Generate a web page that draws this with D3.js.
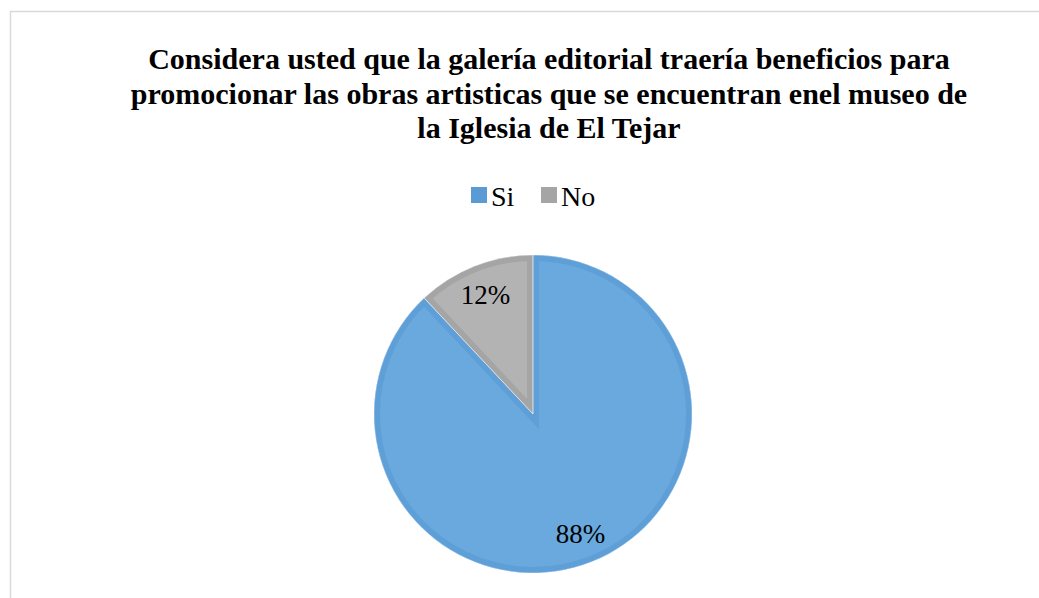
<!DOCTYPE html>
<html><head><meta charset="utf-8">
<script src="https://cdn.jsdelivr.net/npm/d3@7"></script>
</head><body>
<script>
const titleLines = ["Considera usted que la galería editorial traería beneficios para",
  "promocionar las obras artisticas que se encuentran enel museo de",
  "la Iglesia de El Tejar"];
const categories = ["Si", "No"];
const values = [88, 12];
const labels = ["88%", "12%"];
const fills = ["#69a9dd", "#b3b3b3"];
const edges = ["#5f9fd8", "#a5a5a5"];
const legendColors = ["#5b9bd5", "#a5a5a5"];

const W = 1039, H = 598;
const FONT = '"Liberation Serif"';
d3.select("body").style("margin", "0px").style("background", "#fff");
const svg = d3.select("body").append("svg").attr("width", W).attr("height", H)
  .style("display", "block");

// frame
svg.append("line").attr("x1", 10).attr("y1", 11.5).attr("x2", W).attr("y2", 11.5)
  .attr("stroke", "#d9d9d9").attr("stroke-width", 1.5);
svg.append("line").attr("x1", 10.5).attr("y1", 11).attr("x2", 10.5).attr("y2", H)
  .attr("stroke", "#d9d9d9").attr("stroke-width", 1.5);

// title
svg.append("text").style("font-family", FONT).attr("font-weight", "bold")
  .attr("font-size", 30).attr("text-anchor", "middle").attr("fill", "#000")
  .selectAll("tspan").data(titleLines).join("tspan")
  .attr("x", 549).attr("y", (d, i) => 69 + i * 34.7).text(d => d);

// legend
const legX = [471, 541];
const lg = svg.append("g").selectAll("g").data(categories).join("g")
  .attr("transform", (d, i) => `translate(${legX[i]},187)`);
lg.append("rect").attr("width", 16).attr("height", 16).attr("fill", (d, i) => legendColors[i]);
lg.append("text").attr("x", 20).attr("y", 19).style("font-family", FONT)
  .attr("font-size", 28).attr("fill", "#000").text(d => d);

// pie
const cx = 533, cy = 414, R = 159;
const pie = d3.pie().sort(null).value(d => d)(values);
const arc = d3.arc().innerRadius(0).outerRadius(R);
const labelArc = d3.arc().innerRadius(129).outerRadius(129);
const g = svg.append("g").attr("transform", `translate(${cx},${cy})`);
const defs = svg.append("defs");
pie.forEach((p, i) => {
  defs.append("clipPath").attr("id", "clip" + i).append("path").attr("d", arc(p));
  g.append("path").attr("d", arc(p)).attr("fill", fills[i]);
  g.append("path").attr("d", arc(p)).attr("fill", "none").attr("stroke", edges[i])
    .attr("stroke-width", 12).attr("clip-path", `url(#clip${i})`);
});
pie.forEach((p, i) => {
  g.append("path").attr("d", arc(p)).attr("fill", "none").attr("stroke", "#ffffff")
    .attr("stroke-opacity", 0.4).attr("stroke-width", 1);
});
g.selectAll("text.lbl").data(pie).join("text").attr("class", "lbl")
  .attr("transform", d => `translate(${labelArc.centroid(d)})`)
  .attr("text-anchor", "middle").attr("dy", "0.35em").style("font-family", FONT)
  .attr("font-size", 27).attr("fill", "#000")
  .text((d, i) => labels[i]);
</script>
</body></html>
